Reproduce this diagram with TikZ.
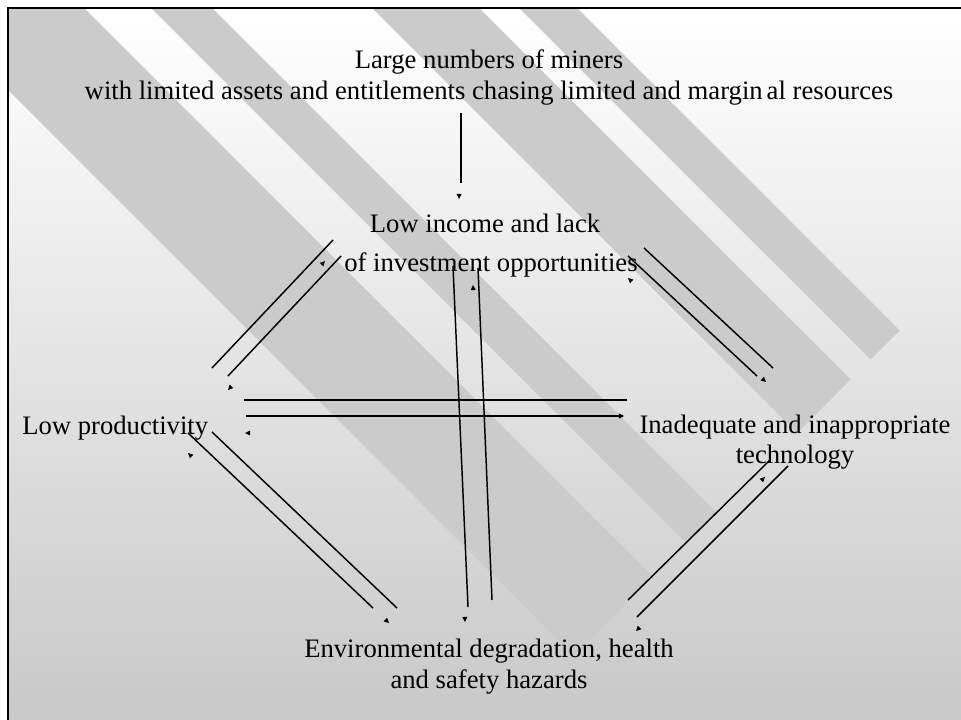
\documentclass[tikz,border=0pt]{standalone}
\usepackage{fontspec}
\setmainfont{Liberation Serif}
\usetikzlibrary{calc}
\definecolor{bgbot}{HTML}{C8C8C8}
\definecolor{stripecol}{HTML}{CBCBCB}
% small detached arrow tip: #1 tip point, #2 line start, #3 line end
\newcommand\tipat[3]{%
  \coordinate (tipback) at ($(#1)+(#2)-(#3)$);
  \fill ($(#1)!3.8pt!(tipback)!1.9pt!90:(#1)$) -- (#1) -- ($(#1)!3.8pt!(tipback)!1.9pt!-90:(#1)$) -- cycle;}
\begin{document}
\begin{tikzpicture}[x=0.75pt,y=-0.75pt,
  conn/.style={line width=1.1pt},
  lbl/.style={font=\fontsize{20pt}{23.25pt}\selectfont, inner sep=0pt, align=center}]
\useasboundingbox (0,0) rectangle (961,720);
\fill[white] (-6,-6) rectangle (967,726);
\shade[top color=white,bottom color=bgbot] (8,8) rectangle (967,726);
\begin{scope}
  \clip (8,8) rectangle (967,726);
  \foreach \a/\b in {-82/76,143/204,364/471,511/569}{
    \fill[stripecol] ({\a+8},8) -- ({\b+8},8) -- ({(1230+\b)/2},{(1230-\b)/2})
      -- ({(1230+\a)/2},{(1230-\a)/2}) -- cycle;
  }
\end{scope}
\draw[line width=1.5pt] (967,8) -- (8,8) -- (8,726);

% texts (base anchor = baseline of the last line)
\node[lbl, anchor=base] (top) at (489,100) {Large numbers of miners\\with limited assets and entitlements chasing limited and margin\kern3pt al resources};
\node[lbl, anchor=base] (inc) at (491,272) {Low income and lack\hspace*{9pt}\\[6pt]of investment opportunities};
\node[lbl, anchor=base west] (prod) at (22,435) {Low productivity};
\node[lbl, anchor=base] (tech) at (795,464) {Inadequate and inappropriate\\technology};
\node[lbl, anchor=base] (env) at (489,688) {Environmental degradation, health\\and safety hazards};

% top -> income
\coordinate (a0s) at (461,113); \coordinate (a0e) at (461,183); \coordinate (a0t) at (459,199);
\draw[conn] (a0s) -- (a0e); \tipat{a0t}{a0s}{a0e}
% productivity <-> income
\coordinate (ul1s) at (212,368); \coordinate (ul1e) at (333,240); \coordinate (ul1t) at (325,261);
\draw[conn] (ul1s) -- (ul1e); \tipat{ul1t}{ul1s}{ul1e}
\coordinate (ul2s) at (341,256); \coordinate (ul2e) at (228,376); \coordinate (ul2t) at (228,390);
\draw[conn] (ul2s) -- (ul2e); \tipat{ul2t}{ul2s}{ul2e}
% income <-> technology
\coordinate (ur1s) at (757,376); \coordinate (ur1e) at (628,256); \coordinate (ur1t) at (628,278);
\draw[conn] (ur1s) -- (ur1e); \tipat{ur1t}{ur1s}{ur1e}
\coordinate (ur2s) at (644,248); \coordinate (ur2e) at (773,368); \coordinate (ur2t) at (766,382);
\draw[conn] (ur2s) -- (ur2e); \tipat{ur2t}{ur2s}{ur2e}
% income <-> environment
\coordinate (v1s) at (453,266); \coordinate (v1e) at (468,607); \coordinate (v1t) at (465,622);
\draw[conn] (v1s) -- (v1e); \tipat{v1t}{v1s}{v1e}
\coordinate (v2s) at (492,600); \coordinate (v2e) at (478,268); \coordinate (v2t) at (473,285);
\draw[conn] (v2s) -- (v2e); \tipat{v2t}{v2s}{v2e}
% productivity <-> technology
\coordinate (h1s) at (627,400); \coordinate (h1e) at (244,400); \coordinate (h1t) at (245,433);
\draw[conn] (h1s) -- (h1e); \tipat{h1t}{h1s}{h1e}
\coordinate (h2s) at (246,416); \coordinate (h2e) at (619,416); \coordinate (h2t) at (624,416);
\draw[conn] (h2s) -- (h2e); \tipat{h2t}{h2s}{h2e}
% productivity <-> environment
\coordinate (ll1s) at (373,608); \coordinate (ll1e) at (188,433); \coordinate (ll1t) at (188,453);
\draw[conn] (ll1s) -- (ll1e); \tipat{ll1t}{ll1s}{ll1e}
\coordinate (ll2s) at (212,432); \coordinate (ll2e) at (397,608); \coordinate (ll2t) at (389,623);
\draw[conn] (ll2s) -- (ll2e); \tipat{ll2t}{ll2s}{ll2e}
% technology <-> environment
\coordinate (lr1s) at (628,600); \coordinate (lr1e) at (770,460); \coordinate (lr1t) at (765,477);
\draw[conn] (lr1s) -- (lr1e); \tipat{lr1t}{lr1s}{lr1e}
\coordinate (lr2s) at (788,466); \coordinate (lr2e) at (637,617); \coordinate (lr2t) at (636,631);
\draw[conn] (lr2s) -- (lr2e); \tipat{lr2t}{lr2s}{lr2e}
\end{tikzpicture}
\end{document}
